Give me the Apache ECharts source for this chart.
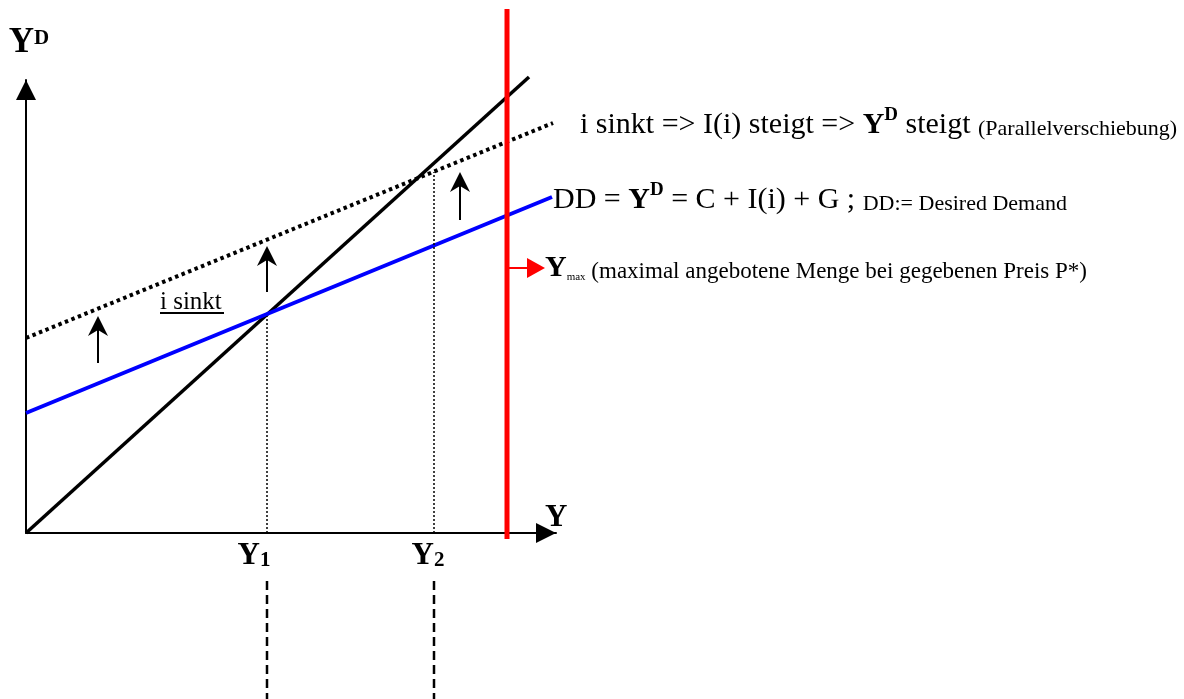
<!DOCTYPE html>
<html>
<head>
<meta charset="utf-8">
<script src="https://cdn.jsdelivr.net/npm/echarts@6/dist/echarts.min.js"></script>
<style>
  html, body { margin: 0; padding: 0; background: #fff; }
  #chart { width: 1184px; height: 699px; }
</style>
</head>
<body>
<div id="chart"></div>
<script>
// Keynesian cross: output Y (horizontal) against desired demand Y^D (vertical)
const outputRange = [0, 530];
const demandRange = [0, 453];

// 45-degree line Y^D = Y
const line45 = [[0, 0], [503, 456]];
// desired demand before and after the interest rate cut
const demandBefore = [[0, 120], [526, 336]];
const demandAfter = [[0, 195], [527, 410]];

// capacity limit Y_max (x value, y span)
const capacityX = 481;
const capacitySpan = [-6, 524];

// equilibrium outputs and the height of their guide lines
const equilibriumX = [241, 408];
const equilibriumTop = [217, 361];
const equilibriumSub = ['1', '2'];
// dashed continuation below the axis
const guideBelow = [-48, -166];

// upward shift arrows: [x, from, to]
const shiftArrows = [[72, 170, 217], [241, 241, 287], [434, 313, 361]];
// pointer from the capacity line to its label: [x0, y0, x1, y1]
const capacityPointer = [[481, 265, 519, 265]];

const FONT = 'Liberation Serif';

function arrowItem(head) {
  return function (params, api) {
    const p0 = api.coord([api.value(0), api.value(1)]);
    const p1 = api.coord([api.value(2), api.value(3)]);
    const dx = p1[0] - p0[0], dy = p1[1] - p0[1];
    const len = Math.sqrt(dx * dx + dy * dy);
    const ux = dx / len, uy = dy / len;     // direction
    const nx = -uy, ny = ux;                 // normal
    const bx = p1[0] - ux * head.length, by = p1[1] - uy * head.length;
    const mx = p1[0] - ux * (head.length - head.notch), my = p1[1] - uy * (head.length - head.notch);
    return {
      type: 'group',
      children: [
        { type: 'line', shape: { x1: p0[0], y1: p0[1], x2: mx, y2: my },
          style: { stroke: head.color, lineWidth: head.width } },
        { type: 'polygon',
          shape: { points: [[p1[0], p1[1]], [bx + nx * head.half, by + ny * head.half], [mx, my], [bx - nx * head.half, by - ny * head.half]] },
          style: { fill: head.color } }
      ]
    };
  };
}

function vline(x, y0, y1) { return [[x, y0], [x, y1]]; }

const series = [
  { type: 'line', data: line45, symbol: 'none', clip: false,
    lineStyle: { color: '#000', width: 3.5 } },
  { type: 'line', data: demandBefore, symbol: 'none', clip: false,
    lineStyle: { color: '#0000ff', width: 4 } },
  { type: 'line', data: demandAfter, symbol: 'none', clip: false,
    lineStyle: { color: '#000', width: 4, type: [3.5, 3.5], cap: 'butt' } }
];

equilibriumX.forEach(function (x, i) {
  series.push({ type: 'line', data: vline(x, 0, equilibriumTop[i]), symbol: 'none', clip: false,
    lineStyle: { color: '#000', width: 1.5, type: [2, 2] } });
  series.push({ type: 'line', data: vline(x, guideBelow[0], guideBelow[1]), symbol: 'none', clip: false,
    lineStyle: { color: '#000', width: 2.5, type: [9, 5], cap: 'butt' } });
});

series.push({
  type: 'custom', clip: false,
  data: shiftArrows.map(function (a) { return [a[0], a[1], a[0], a[2]]; }),
  renderItem: arrowItem({ length: 20, half: 10, notch: 6, color: '#000', width: 2 })
});

series.push({ type: 'line', data: vline(capacityX, capacitySpan[0], capacitySpan[1]), symbol: 'none', clip: false,
  lineStyle: { color: '#ff0000', width: 5, cap: 'butt' } });

series.push({
  type: 'custom', clip: false,
  data: capacityPointer,
  renderItem: arrowItem({ length: 18, half: 10, notch: 0, color: '#ff0000', width: 2 })
});

const mainRich = {
  t: { fontFamily: FONT, fontSize: 30, color: '#000', lineHeight: 34, verticalAlign: 'bottom' },
  b: { fontFamily: FONT, fontSize: 30, fontWeight: 'bold', color: '#000', lineHeight: 34, verticalAlign: 'bottom' },
  sup: { fontFamily: FONT, fontSize: 19, fontWeight: 'bold', color: '#000', lineHeight: 18, verticalAlign: 'top' },
  s: { fontFamily: FONT, fontSize: 22, color: '#000', lineHeight: 28, verticalAlign: 'bottom' }
};

const option = {
  animation: false,
  backgroundColor: '#fff',
  grid: { left: 26, top: 80, width: 530, height: 453 },
  xAxis: {
    type: 'value', min: outputRange[0], max: outputRange[1],
    splitLine: { show: false }, axisTick: { show: false },
    axisLine: { onZero: false, lineStyle: { color: '#000', width: 2 },
      symbol: ['none', 'triangle'], symbolSize: [20, 20], symbolOffset: [0, -10] },
    axisLabel: {
      customValues: equilibriumX, margin: 8,
      formatter: function (v) {
        const i = equilibriumX.indexOf(v);
        return '{y|Y}{sub|' + equilibriumSub[i] + '}{gap' + i + '|}';
      },
      rich: {
        y: { fontFamily: FONT, fontSize: 31, fontWeight: 'bold', color: '#000', lineHeight: 30, verticalAlign: 'bottom' },
        sub: { fontFamily: FONT, fontSize: 21, fontWeight: 'bold', color: '#000', lineHeight: 16, verticalAlign: 'bottom' },
        gap0: { width: 26 },
        gap1: { width: 12 }
      }
    },
    name: 'Y', nameLocation: 'end', nameGap: -11,
    nameTextStyle: { fontFamily: FONT, fontSize: 31, fontWeight: 'bold', color: '#000',
      align: 'left', verticalAlign: 'bottom', lineHeight: 30 }
  },
  yAxis: {
    type: 'value', min: demandRange[0], max: demandRange[1],
    splitLine: { show: false }, axisTick: { show: false }, axisLabel: { show: false },
    axisLine: { onZero: false, lineStyle: { color: '#000', width: 2 },
      symbol: ['none', 'triangle'], symbolSize: [20, 20], symbolOffset: [0, -10] },
    name: '{b|Y}{sup|D}', nameLocation: 'end', nameGap: 20,
    nameTextStyle: { align: 'center', verticalAlign: 'bottom', padding: [0, 0, 0, 6],
      rich: {
        b: { fontFamily: FONT, fontSize: 35, fontWeight: 'bold', color: '#000', lineHeight: 32, verticalAlign: 'bottom' },
        sup: { fontFamily: FONT, fontSize: 21, fontWeight: 'bold', color: '#000', lineHeight: 20, verticalAlign: 'top' }
      } }
  },
  graphic: [
    { type: 'text', left: 580, top: 106,
      style: { text: '{t|i sinkt => I(i) steigt => }{b|Y}{sup|D}{t| steigt }{s|(Parallelverschiebung)}', rich: mainRich } },
    { type: 'text', left: 553, top: 181,
      style: { text: '{t|DD = }{b|Y}{sup|D}{t| = C + I(i) + G ; }{s|DD:= Desired Demand}', rich: mainRich } },
    { type: 'text', left: 545, top: 253,
      style: { text: '{y|Y}{m|max}{t| (maximal angebotene Menge bei gegebenen Preis P*)}',
        rich: {
          y: { fontFamily: FONT, fontSize: 30, fontWeight: 'bold', color: '#ff0000', lineHeight: 30, verticalAlign: 'bottom' },
          m: { fontFamily: FONT, fontSize: 11, color: '#ff0000', lineHeight: 12, verticalAlign: 'bottom' },
          t: { fontFamily: FONT, fontSize: 23, color: '#000', lineHeight: 28, verticalAlign: 'bottom' }
        } } },
    { type: 'text', left: 160, top: 290,
      style: { text: 'i sinkt', font: '25px "Liberation Serif"', fill: '#000' } },
    { type: 'line', shape: { x1: 160, y1: 313, x2: 224, y2: 313 }, style: { stroke: '#000', lineWidth: 2 } }
  ],
  series: series
};

const chart = echarts.init(document.getElementById('chart'));
chart.setOption(option);
</script>
</body>
</html>
